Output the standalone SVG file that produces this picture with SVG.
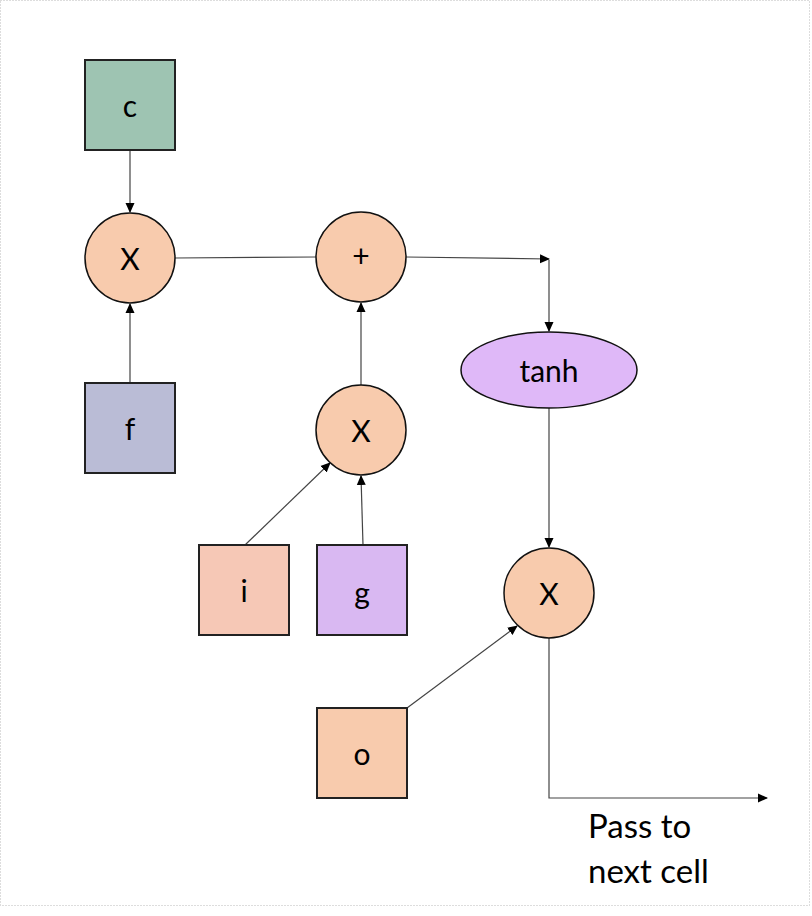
<svg xmlns="http://www.w3.org/2000/svg" width="812" height="916" viewBox="0 0 812 916">
<defs>
<marker id="ah" markerWidth="10" markerHeight="10" refX="9" refY="5" orient="auto" markerUnits="userSpaceOnUse">
<path d="M0,0.5 L10,5 L0,9.5 Z" fill="#000"/>
</marker>
<style>
.box{stroke:#222;stroke-width:2}
.op{fill:#F8CBAD;stroke:#111;stroke-width:1.5}
.t{font-family:Lato,"Open Sans","Liberation Sans",sans-serif;font-size:30px;fill:#000;text-anchor:middle;dominant-baseline:central}
.lb{font-family:Lato,"Open Sans","Liberation Sans",sans-serif;font-size:33px;fill:#000}
.ln{stroke:#444;stroke-width:1.2;fill:none}
.ar{stroke:#444;stroke-width:1.2;fill:none;marker-end:url(#ah)}
</style>
</defs>
<rect x="0.5" y="0.5" width="809" height="905" fill="#fff" stroke="#bbb" stroke-width="1" stroke-dasharray="1 2"/>
<g id="connectors">
<line class="ar" x1="130" y1="150" x2="130" y2="212"/>
<line class="ar" x1="130" y1="383" x2="130" y2="304"/>
<line class="ln" x1="175" y1="258" x2="316" y2="257"/>
<polyline class="ar" points="406,257 549,259"/>
<line class="ar" x1="549" y1="260" x2="549" y2="331"/>
<line class="ar" x1="361" y1="385" x2="361" y2="303"/>
<line class="ar" x1="245" y1="545" x2="330" y2="463"/>
<line class="ar" x1="363" y1="545" x2="361" y2="476"/>
<line class="ar" x1="549" y1="408" x2="549" y2="547"/>
<line class="ar" x1="407" y1="708" x2="517" y2="626"/>
<polyline class="ar" points="549,638 549,798 767,798"/>
</g>
<g id="node-c"><rect class="box" x="85" y="60" width="90" height="90" fill="#9EC4B2"/><text class="t" x="130" y="105">c</text></g>
<g id="node-xf"><circle class="op" cx="130" cy="258" r="45"/><text class="t" x="130" y="258">X</text></g>
<g id="node-f"><rect class="box" x="85" y="383" width="90" height="90" fill="#BABCD6"/><text class="t" x="130" y="428">f</text></g>
<g id="node-plus"><circle class="op" cx="361" cy="257" r="45"/><text class="t" x="361" y="255">+</text></g>
<g id="node-xi"><circle class="op" cx="361" cy="430" r="45"/><text class="t" x="361" y="430">X</text></g>
<g id="node-i"><rect class="box" x="199" y="545" width="90" height="90" fill="#F6C8B6"/><text class="t" x="244" y="590">i</text></g>
<g id="node-g"><rect class="box" x="317" y="545" width="90" height="90" fill="#D9B8F2"/><text class="t" x="362" y="592">g</text></g>
<g id="node-tanh"><ellipse cx="549" cy="370" rx="88" ry="38" fill="#DFB8F8" stroke="#111" stroke-width="1.5"/><text class="t" x="549" y="370">tanh</text></g>
<g id="node-xo"><circle class="op" cx="549" cy="593" r="45"/><text class="t" x="549" y="593">X</text></g>
<g id="node-o"><rect class="box" x="317" y="708" width="90" height="90" fill="#F8CBAD"/><text class="t" x="362" y="753">o</text></g>
<g id="label-pass"><text class="lb" x="588" y="838">Pass to</text><text class="lb" x="588" y="883">next cell</text></g>
</svg>
